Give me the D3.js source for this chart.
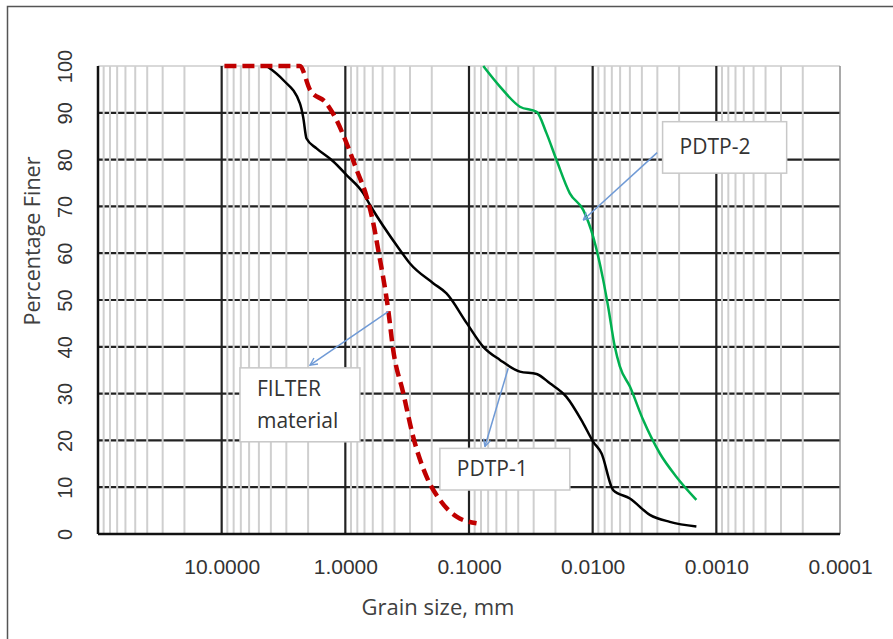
<!DOCTYPE html>
<html>
<head>
<meta charset="utf-8">
<script src="https://cdn.jsdelivr.net/npm/d3@7"></script>
<style>
  body{margin:0;background:#fff;}
  svg{display:block;}
</style>
</head>
<body>
<div id="chart"></div>
<script>
// grain size distribution
var xTicks = [10, 1, 0.1, 0.01, 0.001, 0.0001];
var yTicks = [0, 10, 20, 30, 40, 50, 60, 70, 80, 90, 100];

// PDTP-1 (black)
var pdtp1Size = [4.33, 3.18, 2.33, 2.19, 2.06, 1.71, 1.25, 0.977, 0.716, 0.632, 0.362, 0.30, 0.195, 0.152, 0.104, 0.0767, 0.0562, 0.0388, 0.0284, 0.0222, 0.0163, 0.0119, 0.0099, 0.00847, 0.00683, 0.0050, 0.00345, 0.00238, 0.00145];
var pdtp1Pct  = [100, 97, 92, 89, 84.5, 82.4, 79.6, 76.7, 72.8, 70.3, 60.7, 57.8, 53.6, 51.4, 45, 40, 37.2, 34.7, 34.2, 32.2, 29.3, 23.6, 19.7, 17.2, 9.4, 7.6, 4.1, 2.6, 1.6];

// PDTP-2 (green)
var pdtp2Size = [0.0767, 0.0562, 0.0388, 0.0284, 0.0236, 0.0196, 0.0153, 0.0119, 0.0099, 0.00822, 0.00750, 0.00662, 0.00603, 0.0050, 0.00391, 0.00286, 0.00210, 0.00145];
var pdtp2Pct  = [100, 95.6, 91.3, 90.2, 85.6, 79.9, 72.8, 69.2, 63.5, 54.3, 48.6, 40, 35.8, 31.5, 24.4, 17.2, 12.2, 7.3];

// FILTER material (red dashed)
var filterSize = [9.5, 4.5, 2.33, 1.93, 1.42, 1.18, 0.977, 0.81, 0.673, 0.594, 0.542, 0.450, 0.410, 0.340, 0.283, 0.220, 0.172, 0.126, 0.0869];
var filterPct  = [100, 100, 100, 94.9, 92, 88.5, 83.5, 77.8, 72.1, 66.4, 60.7, 47.9, 39.3, 30.1, 20.8, 12.2, 7.3, 3.7, 2.3];

// callout boxes and arrows, in data units (size, percent)
var notes = [
  {lines: ["PDTP-2"], box: [0.00272, 88.1, 0.00027, 77.1], from: [0.00301, 81.5], to: [0.0119, 67.1]},
  {lines: ["FILTER", "material"], box: [7.11, 35.5, 0.762, 19.7], from: [0.450, 47.5], to: [1.93, 36.1]},
  {lines: ["PDTP-1"], box: [0.172, 18.3, 0.0153, 9.4], from: [0.0482, 35.4], to: [0.0743, 18.7]}
];

var W = 893, H = 639;
var margin = {top: 66, right: 53, bottom: 105, left: 98},
    width = W - margin.left - margin.right,
    height = H - margin.top - margin.bottom;

var svg = d3.select("#chart")
  .append("svg")
    .attr("width", W)
    .attr("height", H);

// outer chart frame (runs off the right and bottom edge)
svg.append("rect")
  .attr("x", 7.5).attr("y", 6.5)
  .attr("width", 910).attr("height", 660)
  .attr("fill", "#fff")
  .attr("stroke", "#555")
  .attr("stroke-width", 1.5);

var g = svg.append("g")
  .attr("transform", "translate(" + margin.left + "," + margin.top + ")");

var x = d3.scaleLog().domain([100, 0.0001]).range([0, width]);
var y = d3.scaleLinear().domain([0, 100]).range([height, 0]);

// horizontal grid
g.selectAll(".hgrid")
  .data(yTicks.filter(function(d){ return d > 0; }))
  .enter().append("line")
    .attr("x1", 0).attr("x2", width)
    .attr("y1", function(d){ return y(d); })
    .attr("y2", function(d){ return y(d); })
    .attr("stroke", function(d){ return d == 100 ? "#d9d9d9" : "#222"; })
    .attr("stroke-width", 2.2);

// minor vertical grid 2..9 in each decade
var minor = [];
for (var e = -4; e <= 1; e++) {
  for (var k = 2; k <= 9; k++) minor.push(k * Math.pow(10, e));
}
g.selectAll(".vminor")
  .data(minor)
  .enter().append("line")
    .attr("x1", function(d){ return x(d); })
    .attr("x2", function(d){ return x(d); })
    .attr("y1", 0).attr("y2", height)
    .attr("stroke", "#cfcfcf")
    .attr("stroke-width", 2);

// major vertical grid
g.selectAll(".vmajor")
  .data([10, 1, 0.1, 0.01, 0.001])
  .enter().append("line")
    .attr("x1", function(d){ return x(d); })
    .attr("x2", function(d){ return x(d); })
    .attr("y1", 0).attr("y2", height)
    .attr("stroke", "#222")
    .attr("stroke-width", 2.2);

// plot borders
g.append("line").attr("x1", width).attr("x2", width).attr("y1", 0).attr("y2", height)
  .attr("stroke", "#8c8c8c").attr("stroke-width", 1.5);
g.append("line").attr("x1", 0).attr("x2", 0).attr("y1", 0).attr("y2", height)
  .attr("stroke", "#111").attr("stroke-width", 2.5);
g.append("line").attr("x1", 0).attr("x2", width).attr("y1", height).attr("y2", height)
  .attr("stroke", "#111").attr("stroke-width", 2.5);

// X axis labels
var xAxis = g.append("g")
  .attr("transform", "translate(0," + height + ")")
  .call(d3.axisBottom(x).tickValues(xTicks).tickSize(0).tickPadding(25)
        .tickFormat(function(d){ return d.toFixed(4); }));
xAxis.select(".domain").remove();
xAxis.selectAll("text")
  .attr("font-family", "'Liberation Sans', Arial, sans-serif")
  .attr("font-size", 21)
  .attr("fill", "#333");

// Y axis labels, rotated
var yAxis = g.append("g")
  .call(d3.axisLeft(y).tickValues(yTicks).tickSize(0).tickFormat(d3.format("d")));
yAxis.select(".domain").remove();
yAxis.selectAll("text")
  .attr("x", 0).attr("dy", 0)
  .attr("transform", "translate(-26,0) rotate(-90)")
  .attr("text-anchor", "middle")
  .attr("font-family", "'Liberation Sans', Arial, sans-serif")
  .attr("font-size", 20)
  .attr("fill", "#333");

// axis titles
svg.append("text")
  .attr("x", 438).attr("y", 615)
  .attr("text-anchor", "middle")
  .attr("font-family", "'Open Sans', sans-serif")
  .attr("font-size", 22)
  .attr("fill", "#404040")
  .text("Grain size, mm");

svg.append("text")
  .attr("transform", "translate(40,241) rotate(-90)")
  .attr("text-anchor", "middle")
  .attr("font-family", "'Open Sans', sans-serif")
  .attr("font-size", 21.5)
  .attr("fill", "#404040")
  .text("Percentage Finer");

// curves
var line = d3.line()
  .x(function(d){ return x(d[0]); })
  .y(function(d){ return y(d[1]); })
  .curve(d3.curveMonotoneX);

g.append("path")
  .datum(d3.zip(pdtp2Size, pdtp2Pct))
  .attr("d", line)
  .attr("fill", "none")
  .attr("stroke", "#00b050")
  .attr("stroke-width", 2.5);

g.append("path")
  .datum(d3.zip(pdtp1Size, pdtp1Pct))
  .attr("d", line)
  .attr("fill", "none")
  .attr("stroke", "#000")
  .attr("stroke-width", 2.5);

g.append("path")
  .datum(d3.zip(filterSize, filterPct))
  .attr("d", line)
  .attr("fill", "none")
  .attr("stroke", "#c00000")
  .attr("stroke-width", 4.5)
  .attr("stroke-dasharray", "12,6");

// arrow head
svg.append("defs").append("marker")
  .attr("id", "head")
  .attr("viewBox", "0 0 10 10")
  .attr("refX", 9).attr("refY", 5)
  .attr("markerWidth", 9).attr("markerHeight", 9)
  .attr("markerUnits", "userSpaceOnUse")
  .attr("orient", "auto")
  .append("path")
    .attr("d", "M1,1 L9,5 L1,9")
    .attr("fill", "none")
    .attr("stroke", "#6f9ad6")
    .attr("stroke-width", 1.5);

// callouts
notes.forEach(function(n){
  var x0 = x(n.box[0]), y0 = y(n.box[1]), x1 = x(n.box[2]), y1 = y(n.box[3]);
  g.append("line")
    .attr("x1", x(n.from[0])).attr("y1", y(n.from[1]))
    .attr("x2", x(n.to[0])).attr("y2", y(n.to[1]))
    .attr("stroke", "#6f9ad6")
    .attr("stroke-width", 1.5)
    .attr("marker-end", "url(#head)");
  g.append("rect")
    .attr("x", x0).attr("y", y0)
    .attr("width", x1 - x0).attr("height", y1 - y0)
    .attr("fill", "#fff")
    .attr("stroke", "#c8c8c8")
    .attr("stroke-width", 1.5);
  var lh = 32, top = (y0 + y1) / 2 - (n.lines.length - 1) * lh / 2 + 7;
  n.lines.forEach(function(t, i){
    g.append("text")
      .attr("x", x0 + 17).attr("y", top + i * lh)
      .attr("font-family", "'Open Sans', sans-serif")
      .attr("font-size", 21)
      .attr("fill", "#333")
      .text(t);
  });
});
</script>
</body>
</html>
